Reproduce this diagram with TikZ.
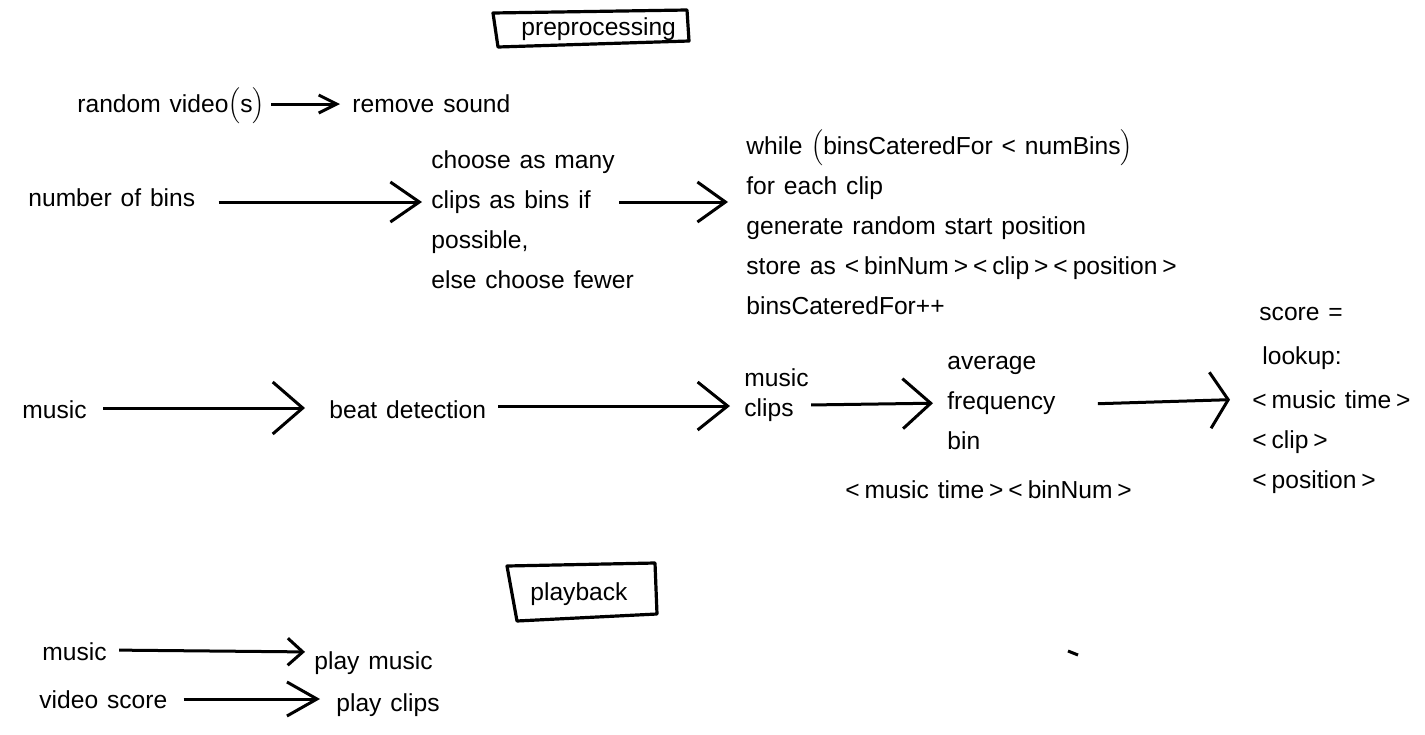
\documentclass[tikz,border=0pt]{standalone}
\usepackage{fontspec}
\setmainfont{Liberation Sans}[WordSpace=1.3]
\usetikzlibrary{arrows.meta}
\newcommand{\abr}[1]{<\hspace{0.2em}#1\hspace{0.2em}>}

\begin{document}
\begin{tikzpicture}[x=0.5pt,y=-0.5pt,
  every node/.style={inner sep=0pt, anchor=base west, font=\fontsize{12.3}{20}\selectfont},
  blk/.style={align=left},
  arr/.style 2 args={line width=1.5pt, -{Straight Barb[length=#1,width=#2]}},
  frame/.style={line width=1.6pt, line join=round}]
  \useasboundingbox (0,0) rectangle (1425,734);

  \node (pre) at (521,35) {preprocessing};
  \draw[frame] (493,13) -- (687,10) -- (689,41) -- (498,47) -- cycle;

  \node (video) at (77,112) {random video$\Bigl($s$\Bigr)$};
  \node (nosound) at (352,112) {remove sound};
  \draw[arr={9pt}{9pt}, shorten <=3pt, shorten >=6pt]
    ([yshift=4pt]video.base east) -- ([yshift=4pt]nosound.base west);

  \node (bins) at (28,206) {number of bins};
  \node[blk] (choose) at (431,288) {choose as many\\clips as bins if\\possible,\\else choose fewer};
  \node[blk] (loop) at (746,314) {while $\Bigl($binsCateredFor < numBins$\Bigr)$\\for each clip\\generate random start position\\store as \abr{binNum}\hspace{0.2em}\abr{clip}\hspace{0.2em}\abr{position}\\binsCateredFor++};
  \draw[arr={14.5pt}{20pt}, shorten <=11.5pt, shorten >=4.5pt]
    ([yshift=2pt]bins.base east) -- ([yshift=2pt]choose.west |- bins.base east);
  \draw[arr={14pt}{20pt}, shorten >=9pt]
    ([xshift=-7.5pt,yshift=2pt]choose.east |- bins.base east) -- ([yshift=2pt]loop.west |- bins.base east);

  \node (music) at (22,418) {music};
  \node (beat) at (329,418) {beat detection};
  \node[blk, font=\fontsize{12.3}{15}\selectfont] (clips) at (744,416) {music\\clips};
  \node[blk] (freq) at (947,449) {average\\frequency\\bin};
  \node (binkey) at (845,498) {\abr{music time}\hspace{0.2em}\abr{binNum}};
  \node[blk] (score) at (1252,488) {\hspace*{3.5pt}score =\\[2pt]\hspace*{5pt}lookup:\\[2pt]\abr{music time}\\\abr{clip}\\\abr{position}};
  \draw[arr={15pt}{26pt}, shorten <=8pt, shorten >=12pt]
    ([yshift=5pt]music.base east) -- ([yshift=5pt]beat.base west);
  \draw[arr={15pt}{24pt}, shorten <=6pt, shorten >=7pt]
    ([yshift=6pt]beat.base east) -- ([yshift=6pt]clips.west |- beat.base west);
  \draw[arr={14pt}{25pt}, shorten <=1pt, shorten >=7pt]
    ([yshift=6.5pt]clips.east |- beat.base west) -- ([yshift=7.5pt]freq.west |- beat.base west);
  \draw[arr={9pt}{28pt}, shorten <=21pt, shorten >=11pt]
    ([yshift=6.5pt]freq.east |- beat.base west) -- ([yshift=9.5pt]score.west |- beat.base west);

  \node (pb) at (530,600) {playback};
  \draw[frame] (507,566) -- (655,563) -- (657,614) -- (517,621) -- cycle;

  \node (music2) at (42,660) {music};
  \node (playm) at (314,669) {play music};
  \draw[arr={7.5pt}{13.5pt}, shorten <=6pt, shorten >=4.5pt]
    ([yshift=5pt]music2.base east) -- ([yshift=8.5pt]playm.base west);
  \node (vscore) at (39,708) {video score};
  \node (playc) at (336,711) {play clips};
  \draw[arr={15pt}{17pt}, shorten <=8pt, shorten >=8pt]
    ([yshift=4.5pt]vscore.base east) -- ([yshift=6pt]playc.base west);

  \draw[line width=1.5pt] (1068,651) -- (1078,655);
\end{tikzpicture}
\end{document}
